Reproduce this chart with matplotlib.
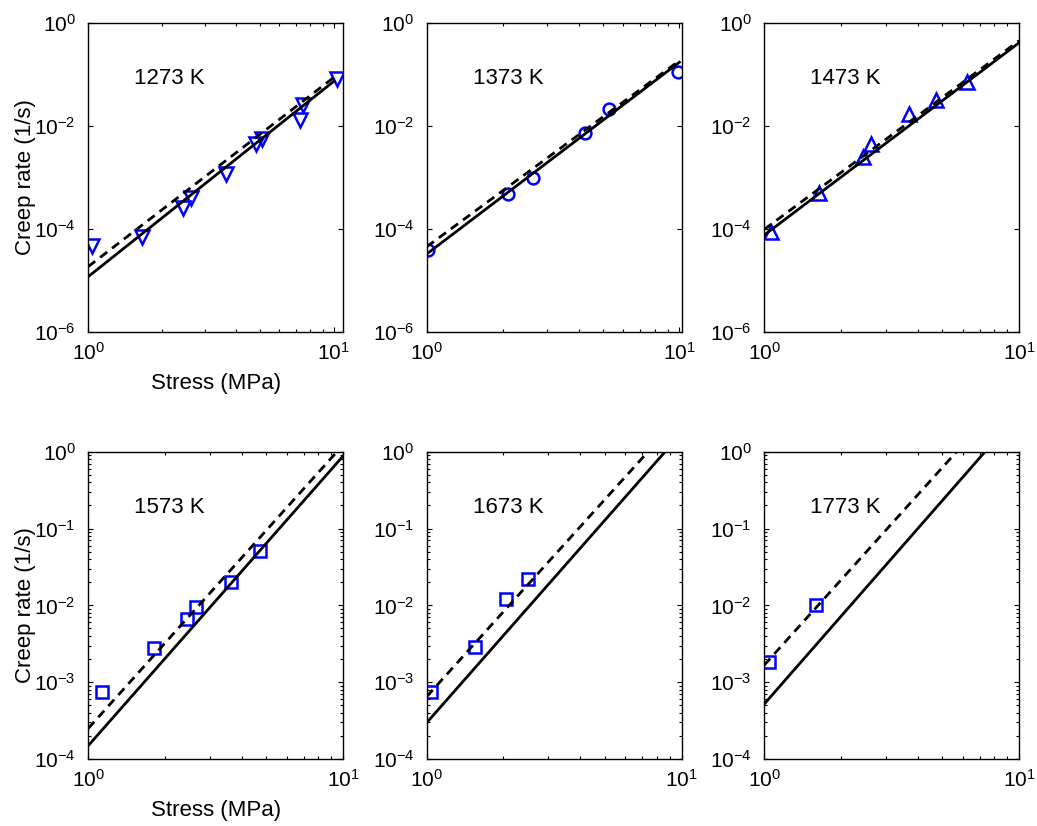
import numpy as np
import matplotlib
matplotlib.use("Agg")
import matplotlib.pyplot as plt
from matplotlib.ticker import LogLocator, NullLocator, NullFormatter, LogFormatterSciNotation

plt.rcParams['font.family'] = ['Liberation Sans', 'DejaVu Sans']
plt.rcParams['mathtext.fontset'] = 'custom'
plt.rcParams['mathtext.rm'] = 'Liberation Sans'
plt.rcParams['mathtext.it'] = 'Liberation Sans:italic'
plt.rcParams['mathtext.default'] = 'regular'

# ---- data -----------------------------------------------------------------
temperatures = ["1273 K", "1373 K", "1473 K", "1573 K", "1673 K", "1773 K"]
markers = ["v", "o", "^", "s", "s", "s"]

stress_1273 = [1.04, 1.65, 2.42, 2.63, 3.63, 4.81, 5.08, 7.31, 7.50, 10.3]
rate_1273 = [4.7e-5, 6.9e-5, 2.5e-4, 4.0e-4, 1.17e-3, 4.5e-3, 5.5e-3, 1.3e-2, 2.6e-2, 8.1e-2]

stress_1373 = [1.01, 2.09, 2.64, 4.24, 5.29, 9.86]
rate_1373 = [3.9e-5, 4.7e-4, 1.0e-3, 7.4e-3, 2.15e-2, 0.112]

stress_1473 = [1.06, 1.64, 2.43, 2.62, 3.69, 4.72, 6.27]
rate_1473 = [8.9e-5, 4.9e-4, 2.5e-3, 4.5e-3, 1.7e-2, 3.2e-2, 7.1e-2]

stress_1573 = [1.135, 1.81, 2.45, 2.65, 3.62, 4.71]
rate_1573 = [7.4e-4, 2.8e-3, 6.6e-3, 9.4e-3, 2.0e-2, 5.1e-2]

stress_1673 = [1.037, 1.545, 2.045, 2.495]
rate_1673 = [7.4e-4, 2.9e-3, 1.22e-2, 2.18e-2]

stress_1773 = [1.046, 1.59]
rate_1773 = [1.83e-3, 1.0e-2]

stress_sets = [stress_1273, stress_1373, stress_1473, stress_1573, stress_1673, stress_1773]
rate_sets = [rate_1273, rate_1373, rate_1473, rate_1573, rate_1673, rate_1773]

# power-law fits: rate = A * stress**n
solid_A = [1.18e-5, 3.25e-5, 7.6e-5, 1.49e-4, 2.97e-4, 5.2e-4]
solid_n = [3.80, 3.73, 3.74, 3.77, 3.77, 3.79]
dashed_A = [1.85e-5, 4.5e-5, 9.8e-5, 2.5e-4, 6.5e-4, 1.67e-3]
dashed_n = [3.68, 3.62, 3.67, 3.69, 3.67, 3.68]

fit_stress = [1.0, 10.0]

x_limits = [(1, 10.9), (1, 10.2), (1, 10), (1, 10), (1, 10), (1, 10)]
y_limits = [(1e-6, 1), (1e-6, 1), (1e-6, 1), (1e-4, 1), (1e-4, 1), (1e-4, 1)]

# ---- layout ---------------------------------------------------------------
fig = plt.figure(figsize=(10.37, 8.26), dpi=100)

lefts = [0.0851, 0.4115, 0.7370]
width = 0.2457
rows = [(0.5984, 0.3734), (0.0811, 0.3720)]

tick_fs = 15
label_fs = 16
blue = (0, 0, 1)

for i in range(6):
    r, c = divmod(i, 3)
    bottom, height = rows[r]
    ax = fig.add_axes([lefts[c], bottom, width, height])
    ax.set_xscale('log')
    ax.set_yscale('log')

    ax.plot(stress_sets[i], rate_sets[i], linestyle='none', marker=markers[i],
            markersize=10 if markers[i] in ('v', '^') else 8.5,
            markerfacecolor='none', markeredgecolor=blue, markeredgewidth=1.8,
            zorder=2)

    fs = np.array(fit_stress)
    ax.plot(fs, dashed_A[i] * fs ** dashed_n[i], color='black', lw=2.0,
            linestyle=(0, (3.2, 2.2)), zorder=3)
    ax.plot(fs, solid_A[i] * fs ** solid_n[i], color='black', lw=2.0,
            linestyle='-', zorder=3)

    ax.set_xlim(*x_limits[i])
    ax.set_ylim(*y_limits[i])

    ax.xaxis.set_major_locator(LogLocator(base=10, numticks=10))
    ax.xaxis.set_minor_locator(LogLocator(base=10, subs=np.arange(2, 10), numticks=10))
    ax.xaxis.set_major_formatter(LogFormatterSciNotation())
    ax.xaxis.set_minor_formatter(NullFormatter())
    if r == 0:
        ax.set_yticks([1e-6, 1e-4, 1e-2, 1e0])
        ax.yaxis.set_minor_locator(NullLocator())
    else:
        ax.set_yticks([1e-4, 1e-3, 1e-2, 1e-1, 1e0])
        ax.yaxis.set_minor_locator(LogLocator(base=10, subs=np.arange(2, 10), numticks=10))
    ax.yaxis.set_major_formatter(LogFormatterSciNotation())
    ax.yaxis.set_minor_formatter(NullFormatter())

    ax.tick_params(which='both', direction='in', top=True, right=True,
                   labelsize=tick_fs, width=0.8, colors='black')
    ax.tick_params(which='major', length=3.5)
    ax.tick_params(which='minor', length=2)
    ax.tick_params(axis='y', which='major', pad=9)
    ax.tick_params(axis='x', which='major', pad=7)
    for sp in ax.spines.values():
        sp.set_linewidth(1.0)
        sp.set_color('black')

    ax.text(0.18, 0.82, temperatures[i], transform=ax.transAxes,
            ha='left', va='center', fontsize=label_fs)

    if c == 0:
        ax.set_ylabel("Creep rate (1/s)", fontsize=label_fs)
        ax.yaxis.set_label_coords(-0.205, 0.5)
        ax.set_xlabel("Stress (MPa)", fontsize=label_fs)
        ax.xaxis.set_label_coords(0.5, -0.133)

fig.savefig("out.png", dpi=100)
